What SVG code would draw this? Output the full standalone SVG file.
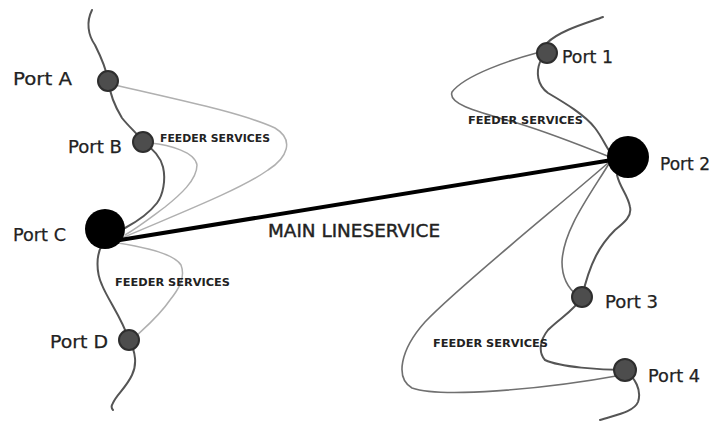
<svg xmlns="http://www.w3.org/2000/svg" width="712" height="422" viewBox="0 0 712 422">
<style>
  .coast{fill:none;stroke:#555;stroke-width:2;stroke-linecap:round;stroke-linejoin:round}
  .feedL{fill:none;stroke:#b0b0b0;stroke-width:1.5;stroke-linecap:round}
  .feedR{fill:none;stroke:#707070;stroke-width:1.6;stroke-linecap:round}
  .main{fill:none;stroke:#000;stroke-width:4;stroke-linecap:round}
  .small{fill:#4d4d4d;stroke:#2e2e2e;stroke-width:2}
  .big{fill:#000}
  .lbl{font-family:"DejaVu Sans","Liberation Sans",sans-serif;font-size:17px;fill:#222;stroke:#222;stroke-width:0.25}
  .fs{font-family:"DejaVu Sans","Liberation Sans",sans-serif;font-size:10px;font-weight:bold;fill:#222}
  .ml{font-family:"DejaVu Sans","Liberation Sans",sans-serif;font-size:17px;fill:#222;stroke:#222;stroke-width:0.4}
</style>
<rect width="712" height="422" fill="#fff"/>
<g id="coastlines">
  <path class="coast" d="M92,10 C86,22 88,35 95,45 C100,55 106,68 108,80 C110,95 114,105 122,118 C130,128 138,134 143,142 C152,148 160,155 163,167 C166,180 163,195 157,203 C150,212 140,220 125,228"/>
  <path class="coast" d="M102,245 C96,255 96,272 102,285 C108,300 122,318 129,340 C136,352 137,365 132,375 C126,388 116,395 113,403 C111,406 111,408 113,410"/>
  <path class="coast" d="M603,17 C590,22 560,30 547,43"/>
  <path class="coast" d="M540,62 C536,72 537,85 548,93 C565,103 585,115 595,128 C602,137 605,145 610,152"/>
  <path class="coast" d="M617,175 C620,188 628,195 630,207 C632,216 625,222 615,230 C600,245 590,262 582,297 C575,310 560,318 548,330 C540,340 538,352 545,360 C560,367 600,370 625,370 C635,378 642,390 638,402 C634,412 615,415 600,420"/>
</g>
<g id="connectors">
  <path class="feedL" d="M115,85 C170,98 240,112 275,128 C295,140 287,158 268,170 C240,190 175,215 122,238"/>
  <path class="feedL" d="M150,143 C170,145 195,152 197,165 C197,180 180,195 165,207 C150,218 140,226 125,235"/>
  <path class="feedL" d="M118,243 C150,248 175,255 181,265 C186,278 178,290 170,300 C160,315 148,325 135,337"/>
  <path class="feedR" d="M540,52 C510,60 465,75 452,92 C448,103 470,110 517,123 C550,133 580,145 610,157"/>
  <path class="feedR" d="M610,162 C590,195 563,230 562,262 C562,280 570,290 578,296"/>
  <path class="feedR" d="M608,163 C560,205 460,285 425,322 C400,350 395,378 412,388 C440,398 540,390 622,375"/>
  <path class="main" d="M120,240 L612,160"/>
</g>
<g id="port-a"><circle class="small" cx="108" cy="81" r="10"/><text class="lbl" x="13" y="85" textLength="59" lengthAdjust="spacingAndGlyphs">Port A</text></g>
<g id="port-b"><circle class="small" cx="143" cy="142" r="10"/><text class="lbl" x="68" y="153" textLength="54" lengthAdjust="spacingAndGlyphs">Port B</text></g>
<g id="port-c"><circle class="big" cx="105" cy="229" r="20"/><text class="lbl" x="13" y="241" textLength="53" lengthAdjust="spacingAndGlyphs">Port C</text></g>
<g id="port-d"><circle class="small" cx="129" cy="340" r="10"/><text class="lbl" x="50" y="348" textLength="58" lengthAdjust="spacingAndGlyphs">Port D</text></g>
<g id="port-1"><circle class="small" cx="547" cy="53" r="10"/><text class="lbl" x="562" y="63" textLength="51" lengthAdjust="spacingAndGlyphs">Port 1</text></g>
<g id="port-2"><circle class="big" cx="628" cy="157" r="21"/><text class="lbl" x="660" y="170" textLength="50" lengthAdjust="spacingAndGlyphs">Port 2</text></g>
<g id="port-3"><circle class="small" cx="582" cy="297" r="10"/><text class="lbl" x="605" y="308" textLength="53" lengthAdjust="spacingAndGlyphs">Port 3</text></g>
<g id="port-4"><circle class="small" cx="625" cy="370" r="11"/><text class="lbl" x="648" y="382" textLength="52" lengthAdjust="spacingAndGlyphs">Port 4</text></g>
<g id="labels">
  <text class="fs" x="160" y="142" textLength="110" lengthAdjust="spacingAndGlyphs">FEEDER SERVICES</text>
  <text class="fs" x="115" y="286" textLength="115" lengthAdjust="spacingAndGlyphs">FEEDER SERVICES</text>
  <text class="fs" x="468" y="124" textLength="115" lengthAdjust="spacingAndGlyphs">FEEDER SERVICES</text>
  <text class="fs" x="433" y="347" textLength="115" lengthAdjust="spacingAndGlyphs">FEEDER SERVICES</text>
  <text class="ml" x="268" y="237" textLength="172" lengthAdjust="spacingAndGlyphs">MAIN LINESERVICE</text>
</g>
</svg>
